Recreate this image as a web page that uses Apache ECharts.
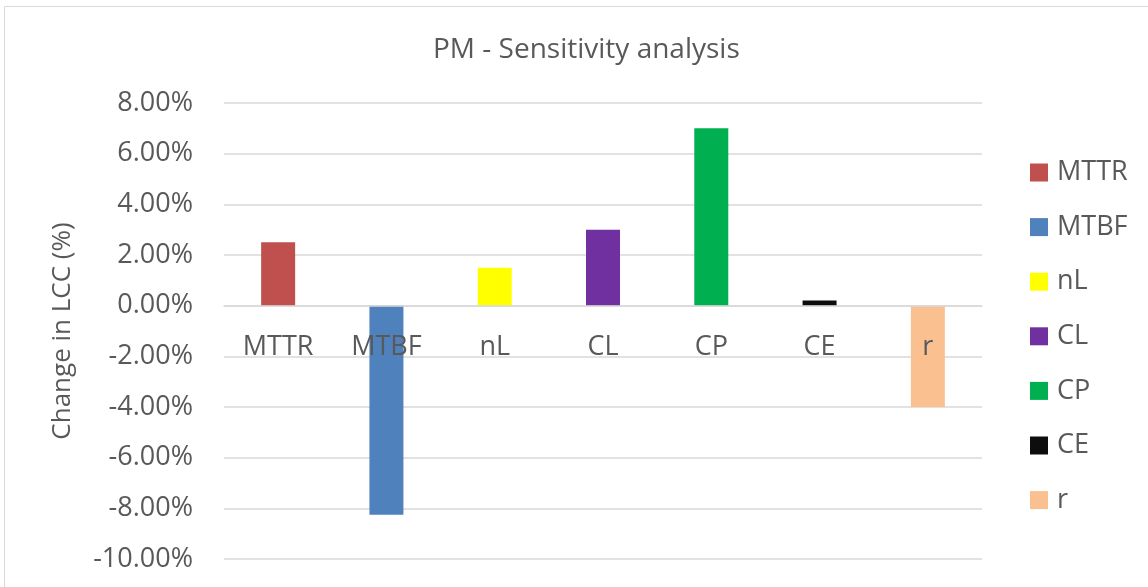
<!DOCTYPE html>
<html>
<head>
<meta charset="utf-8">
<script src="https://cdn.jsdelivr.net/npm/echarts@6/dist/echarts.min.js"></script>
<style>
  html, body { margin: 0; padding: 0; background: #fff; }
  #chart { width: 1148px; height: 587px; }
</style>
</head>
<body>
<div id="chart"></div>
<script>
// parameters along the x axis, one series each
const categories = ['MTTR', 'MTBF', 'nL', 'CL', 'CP', 'CE', 'r'];
// change in LCC, percent
const changes = [2.5, -8.25, 1.5, 3.0, 7.0, 0.2, -4.0];
const colors = ['#C0504D', '#4F81BD', '#FFFF00', '#7030A0', '#00B050', '#0D0D0D', '#FAC090'];
const yTicks = { min: -10, max: 8, step: 2 };

const font = 'Open Sans';
const textColor = '#595959';

const gridTop = 103, gridBottom = 28;
const gridHeight = 587 - gridTop - gridBottom;
// category labels sit just under the zero line, like Excel does
const zeroOffset = -gridHeight * (0 - yTicks.min) / (yTicks.max - yTicks.min);

const chart = echarts.init(document.getElementById('chart'));

// each parameter is its own series; stacking keeps the bar on the category centre
const series = categories.map((name, i) => ({
    name: name,
    type: 'bar',
    stack: 'all',
    barWidth: 34,
    itemStyle: { color: colors[i] },
    data: categories.map((c, j) => (j === i ? changes[i] : null))
}));

chart.setOption({
    backgroundColor: '#fff',
    animation: false,
    textStyle: { fontFamily: font },
    title: {
        text: 'PM - Sensitivity analysis',
        left: 428,
        top: 31,
        textStyle: { fontFamily: font, fontSize: 28, fontWeight: 'normal', color: textColor }
    },
    graphic: [{
        type: 'rect',
        shape: { x: 4.5, y: 6.5, width: 1200, height: 700 },
        style: { fill: 'none', stroke: '#d9d9d9', lineWidth: 1 },
        silent: true
    }],
    legend: {
        orient: 'vertical',
        left: 1025,
        top: 154,
        itemWidth: 18,
        itemHeight: 18,
        itemGap: 27.6,
        icon: 'rect',
        data: categories,
        textStyle: { fontFamily: font, fontSize: 27, color: textColor, padding: [0, 0, 0, 4] }
    },
    grid: { left: 224, right: 166, top: gridTop, bottom: gridBottom, outerBoundsMode: 'none' },
    xAxis: {
        type: 'category',
        data: categories,
        offset: zeroOffset,
        z: 5,
        axisLine: { onZero: false, lineStyle: { color: '#d9d9d9', width: 1.5 } },
        axisTick: { show: false },
        axisLabel: { margin: 28, fontFamily: font, fontSize: 27, color: textColor, interval: 0 }
    },
    yAxis: {
        type: 'value',
        min: yTicks.min,
        max: yTicks.max,
        interval: yTicks.step,
        name: 'Change in LCC (%)',
        nameLocation: 'middle',
        nameGap: 148,
        nameTextStyle: { fontFamily: font, fontSize: 26, color: textColor },
        axisLine: { show: false },
        axisTick: { show: false },
        splitLine: { lineStyle: { color: '#d9d9d9', width: 1.5 } },
        axisLabel: {
            margin: 31,
            fontFamily: font,
            fontSize: 27,
            color: textColor,
            formatter: v => v.toFixed(2) + '%'
        }
    },
    series: series
});
</script>
</body>
</html>
